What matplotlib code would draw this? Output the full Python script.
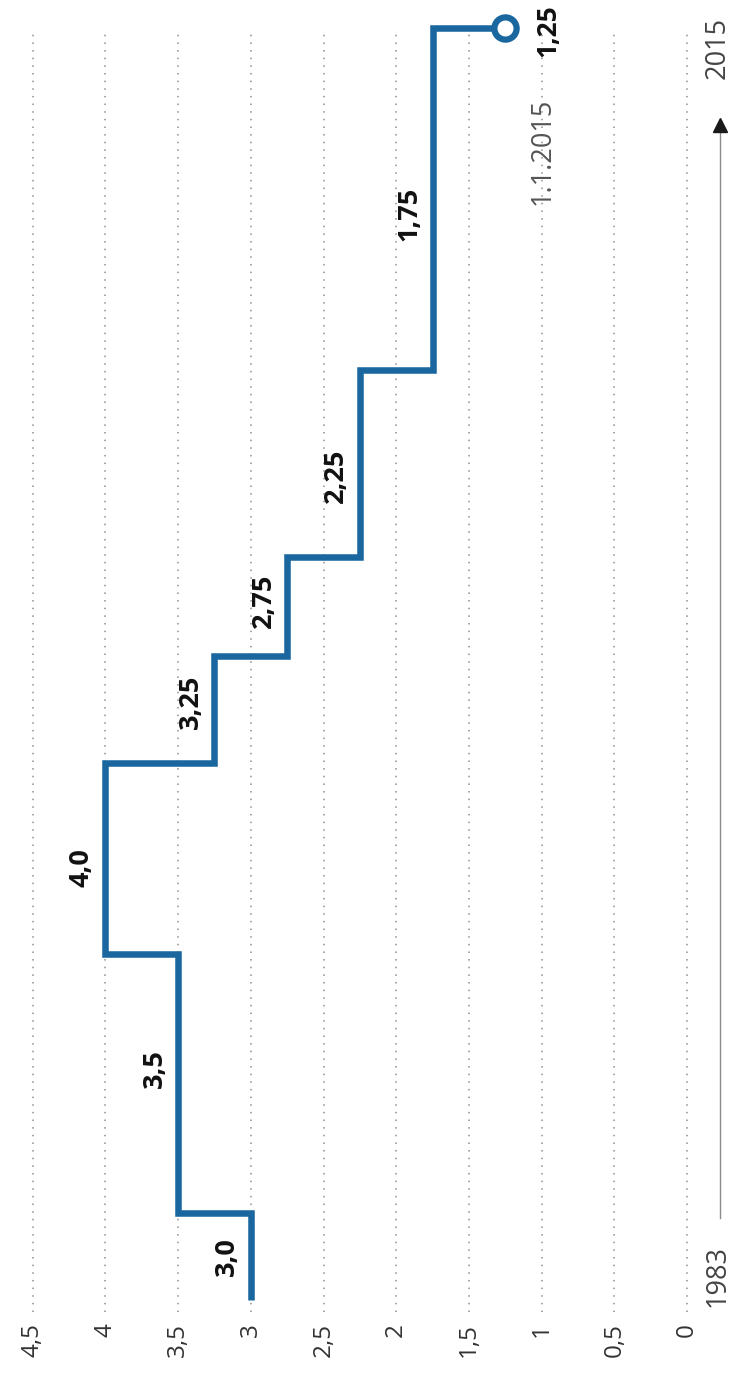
import matplotlib
matplotlib.use("Agg")
import matplotlib.pyplot as plt
import numpy as np

# ---- data (time axis read as linear 1983 -> 2015) ----
change_times = [1983.0, 1985.2, 1991.7, 1996.5, 1999.2, 2001.7, 2006.4, 2015.0]
rates = [3.0, 3.5, 4.0, 3.25, 2.75, 2.25, 1.75, 1.25]
rate_labels = ["3,0", "3,5", "4,0", "3,25", "2,75", "2,25", "1,75", "1,25"]
tick_values = [4.5, 4.0, 3.5, 3.0, 2.5, 2.0, 1.5, 1.0, 0.5, 0.0]
tick_labels = ["4,5", "4", "3,5", "3", "2,5", "2", "1,5", "1", "0,5", "0"]
start_label = "1983"
end_label = "2015"
date_label = "1.1.2015"

# style: vertical nudge (points) of each step label from its segment midpoint
label_nudge = [0, 11, -6, 6, 4, -9, -11]

plt.rcParams['font.family'] = ['Open Sans', 'DejaVu Sans']

W, H = 733, 1374
fig = plt.figure(figsize=(W / 100, H / 100), dpi=100)
ax = fig.add_axes([0, (H - 1312) / H, 1, (1312 - 32) / H])

BLUE = "#1a67a0"

ax.set_xlim(4.725, -0.316)
ax.set_ylim(1982.70, 2014.90)

ax.set_xticks(tick_values)
ax.set_xticklabels(tick_labels, rotation=90, fontsize=17.5, color="#333333")
ax.tick_params(axis="x", length=0, pad=8)
ax.tick_params(axis="y", left=False, labelleft=False)
ax.grid(axis="x", color="#8f8f8f", linewidth=1.1, linestyle=(0, (1, 4.0)))
ax.grid(axis="y", visible=False)
for s in ax.spines.values():
    s.set_visible(False)

# step path: vertical at constant rate, horizontal at each change
xs, ys = [], []
for i in range(len(rates) - 1):
    xs += [rates[i], rates[i], rates[i + 1]]
    ys += [change_times[i], change_times[i + 1], change_times[i + 1]]
ax.plot(xs, ys, color=BLUE, lw=4.7, solid_joinstyle="miter",
        solid_capstyle="butt", clip_on=False, zorder=3)
ax.plot([rates[-1]], [change_times[-1]], marker="o", ms=16, mew=4.5,
        mec=BLUE, mfc="white", clip_on=False, zorder=4)

for i in range(len(rates) - 1):
    mid = (change_times[i] + change_times[i + 1]) / 2
    ax.annotate(rate_labels[i], (rates[i], mid), xytext=(-17, label_nudge[i]),
                textcoords="offset points", rotation=90, ha="center",
                va="center", fontsize=19.5, fontweight="bold", color="#111111")

ax.annotate(rate_labels[-1], (rates[-1], change_times[-1]), xytext=(31, -2),
            textcoords="offset points", rotation=90, ha="center", va="center",
            fontsize=19, fontweight="bold", color="#111111", annotation_clip=False)
ax.annotate(date_label, (1.0, change_times[-1]), xytext=(1, -50),
            textcoords="offset points", rotation=90, ha="center", va="top",
            fontsize=19.5, color="#555555", annotation_clip=False)

# time arrow at the right
arrow_x = -0.227
ax.plot([arrow_x, arrow_x], [1985.06, 2012.5], color="#8a8a8a", lw=1.0,
        clip_on=False)
ax.plot([arrow_x], [2012.55], marker="^", ms=10, color="#1a1a1a",
        clip_on=False)
ax.annotate(start_label, (arrow_x, 1983.0), xytext=(-2, 17),
            textcoords="offset points", rotation=90, ha="center", va="center",
            fontsize=19.5, color="#444444", annotation_clip=False)
ax.annotate(end_label, (arrow_x, 2015.0), xytext=(-2, -14),
            textcoords="offset points", rotation=90, ha="center", va="center",
            fontsize=19.5, color="#444444", annotation_clip=False)

fig.savefig("out.png", dpi=100, facecolor="white")
